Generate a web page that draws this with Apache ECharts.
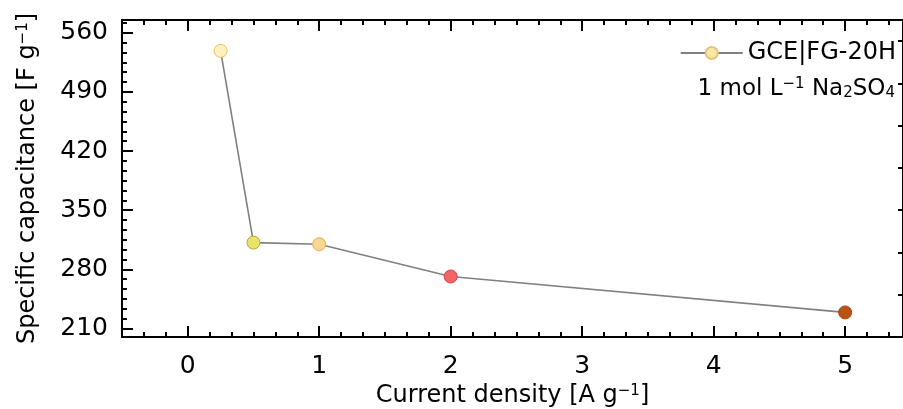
<!DOCTYPE html>
<html>
<head>
<meta charset="utf-8">
<script src="https://cdn.jsdelivr.net/npm/echarts@6/dist/echarts.min.js"></script>
<style>html,body{margin:0;padding:0;background:#fff;}#chart{width:903px;height:409px;}</style>
</head>
<body>
<div id="chart"></div>
<script>
// ---- data ----
const currentDensity = [0.25, 0.5, 1, 2, 5];
const capacitance = [538.5, 311.7, 309.7, 271.6, 229.1];
const pointFill = ['#faf2c2', '#e9e36c', '#f7d696', '#f26466', '#b9530f'];
const pointStroke = ['#f0c45a', '#b7a835', '#f4a744', '#e03b4b', '#a8431b'];
const seriesName = 'GCE|FG-20H';
const xTicks = [0, 1, 2, 3, 4, 5];
const yTicks = [210, 280, 350, 420, 490, 560];
const yRightTicks = [250, 300, 350, 400, 450, 500, 550];
const xRange = [-0.5, 5.44];
const yRange = [200, 575];

// minor tick positions (subdivide majors into 6)
function minors(majors, lo, hi) {
  const step = (majors[1] - majors[0]) / 6;
  const out = [];
  for (let v = majors[0] - step * 12; v <= hi + 1e-9; v += step) {
    if (v >= lo - 1e-9) out.push(+v.toFixed(6));
  }
  return out;
}
const xMinor = minors(xTicks, xRange[0], xRange[1]);
const yMinor = minors(yTicks, yRange[0], yRange[1]);

const FONT = 'DejaVu Sans';
const FS = 24;
const TFS = 25;
const black = '#000';

function xAx(pos, vals, len, labels) {
  return {
    type: 'value', position: pos, min: xRange[0], max: xRange[1],
    axisLine: { show: true, onZero: false, lineStyle: { color: black, width: 2 } },
    axisTick: { show: true, inside: true, length: len, customValues: vals, lineStyle: { color: black, width: 2 } },
    axisLabel: labels ? { show: true, customValues: vals, margin: 17, color: black, fontFamily: FONT, fontSize: TFS } : { show: false },
    splitLine: { show: false }
  };
}
function yAx(pos, vals, len, labels) {
  return {
    type: 'value', position: pos, min: yRange[0], max: yRange[1],
    axisLine: { show: true, onZero: false, lineStyle: { color: black, width: 2 } },
    axisTick: { show: true, inside: true, length: len, customValues: vals, lineStyle: { color: black, width: 2 } },
    axisLabel: labels ? { show: true, customValues: vals, margin: 14, color: black, fontFamily: FONT, fontSize: TFS } : { show: false },
    splitLine: { show: false }
  };
}

const supStyle = { fontSize: 15, verticalAlign: 'top', fontFamily: FONT, color: black, padding: [0, 0, 9, 0] };
const subStyle = { fontSize: 15, verticalAlign: 'bottom', fontFamily: FONT, color: black, padding: [9, 0, 0, 0] };

const xMain = xAx('bottom', xTicks, 11, true);
xMain.name = 'Current density [A g{sup|−1}]';
xMain.nameLocation = 'middle';
xMain.nameGap = 42;
xMain.nameTextStyle = { color: black, fontFamily: FONT, fontSize: FS, rich: { sup: supStyle } };

const yMain = yAx('left', yTicks, 11, true);
yMain.name = 'Specific capacitance [F g{sup|−1}]';
yMain.nameLocation = 'middle';
yMain.nameGap = 82;
yMain.nameTextStyle = { color: black, fontFamily: FONT, fontSize: FS, rich: { sup: supStyle } };

const option = {
  backgroundColor: '#fff',
  animation: false,
  grid: { left: 122, top: 20, right: 0, bottom: 72, containLabel: false, outerBoundsMode: 'none' },
  xAxis: [
    xMain,
    xAx('bottom', xMinor, 5, false),
    xAx('top', xTicks, 11, false),
    xAx('top', xMinor, 5, false)
  ],
  yAxis: [
    yMain,
    yAx('left', yMinor, 5, false),
    yAx('right', yRightTicks, 5, false)
  ],
  legend: {
    right: 2, top: 36, itemWidth: 62, itemHeight: 15,
    textStyle: { color: black, fontFamily: FONT, fontSize: FS },
    data: [seriesName]
  },
  title: {
    right: 3, top: 72,
    text: '1 mol L{sup|−1} Na{sub|2}SO{sub|4}',
    textStyle: { color: black, fontFamily: FONT, fontSize: 23, fontWeight: 'normal',
      rich: { sup: supStyle, sub: subStyle } }
  },
  series: [{
    name: seriesName,
    type: 'line',
    xAxisIndex: 0, yAxisIndex: 0,
    symbol: 'circle', symbolSize: 13,
    lineStyle: { color: '#808080', width: 1.6 },
    itemStyle: { color: '#f8e8a8', borderColor: '#e6c27a', borderWidth: 1 },
    data: currentDensity.map((x, i) => ({
      value: [x, capacitance[i]],
      itemStyle: { color: pointFill[i], borderColor: pointStroke[i], borderWidth: 1 }
    }))
  }]
};

const chart = echarts.init(document.getElementById('chart'), null, { renderer: 'canvas' });
chart.setOption(option);
</script>
</body>
</html>
